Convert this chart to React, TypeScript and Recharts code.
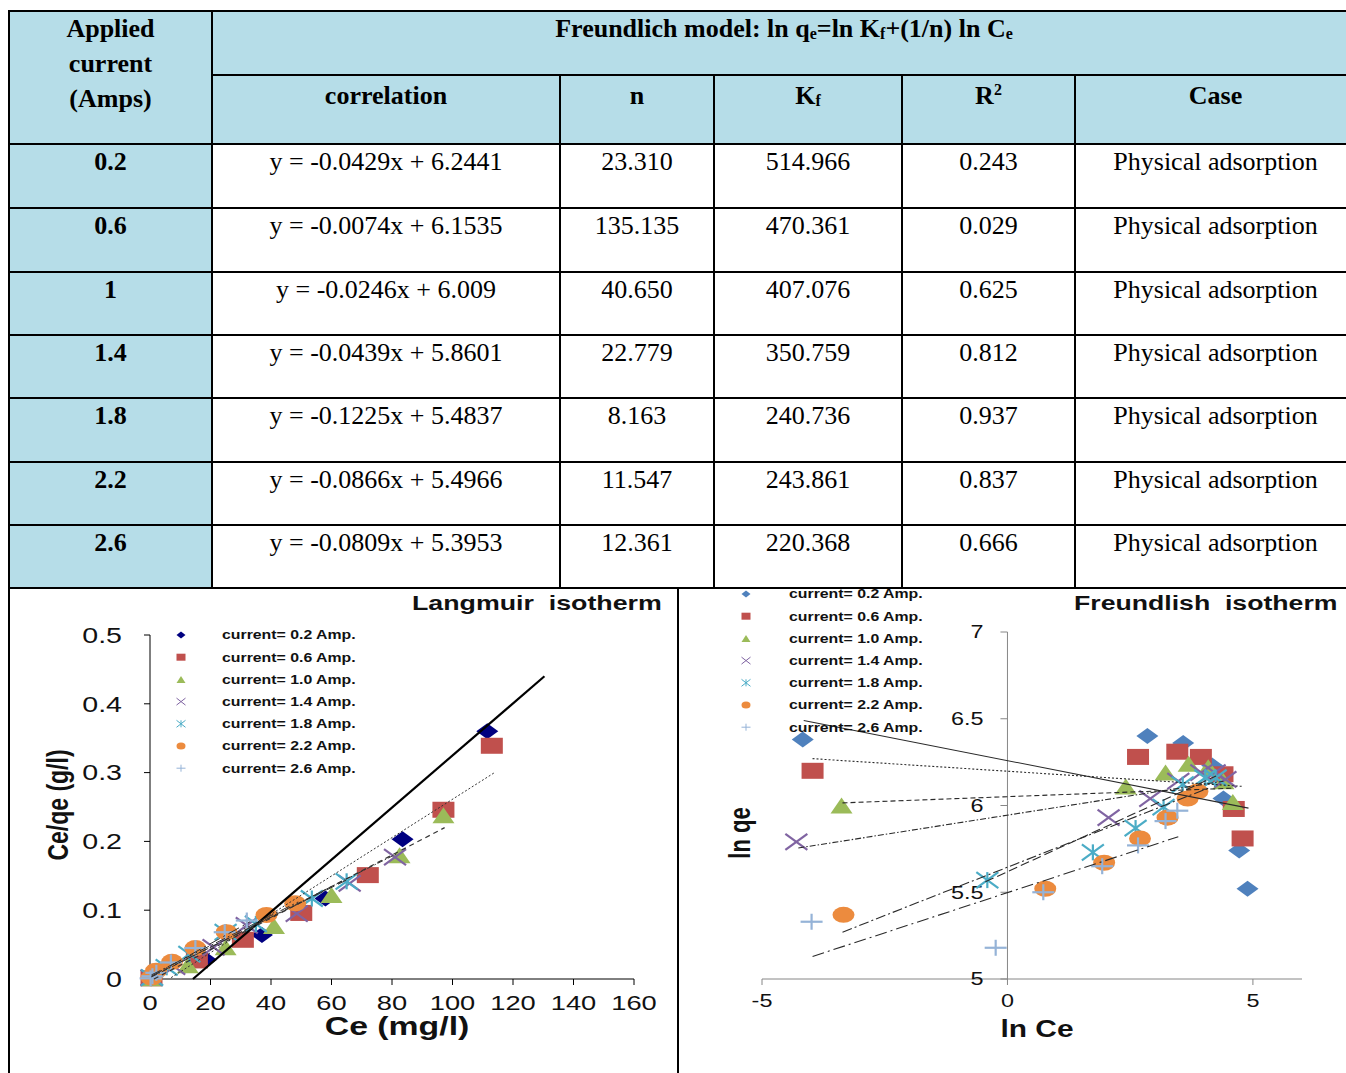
import React from 'react';
import { ScatterChart, Scatter, XAxis, YAxis, ReferenceLine, ReferenceDot } from 'recharts';

type Pt = [number, number];

// ---------------- TABLE DATA ----------------
const CURRENTS = ['0.2', '0.6', '1', '1.4', '1.8', '2.2', '2.6'];
const CORRELATIONS = [
  'y = -0.0429x + 6.2441',
  'y = -0.0074x + 6.1535',
  'y = -0.0246x + 6.009',
  'y = -0.0439x + 5.8601',
  'y = -0.1225x + 5.4837',
  'y = -0.0866x + 5.4966',
  'y = -0.0809x + 5.3953',
];
const N_VALUES = ['23.310', '135.135', '40.650', '22.779', '8.163', '11.547', '12.361'];
const KF_VALUES = ['514.966', '470.361', '407.076', '350.759', '240.736', '243.861', '220.368'];
const R2_VALUES = ['0.243', '0.029', '0.625', '0.812', '0.937', '0.837', '0.666'];
const CASES = ['Physical adsorption', 'Physical adsorption', 'Physical adsorption', 'Physical adsorption', 'Physical adsorption', 'Physical adsorption', 'Physical adsorption'];

// ---------------- CHART DATA ----------------
const SERIES_NAMES = [
  'current= 0.2 Amp.',
  'current= 0.6 Amp.',
  'current= 1.0 Amp.',
  'current= 1.4 Amp.',
  'current= 1.8 Amp.',
  'current= 2.2 Amp.',
  'current= 2.6 Amp.',
];
const MARKERS = ['diamond', 'square', 'triangle', 'x', 'star', 'circle', 'plus'];
const LANG_COLORS = ['#000080', '#c0504d', '#9bbb59', '#8064a2', '#4bacc6', '#ec8b3e', '#95b3d7'];
const FREU_COLORS = ['#4f81bd', '#c0504d', '#9bbb59', '#8064a2', '#4bacc6', '#ec8b3e', '#95b3d7'];

// Langmuir: Ce (mg/l) vs Ce/qe (g/l)
const LANG_02: Pt[] = [[0.5, 0.001], [18.5, 0.028], [37, 0.064], [58, 0.117], [83.5, 0.203], [111.5, 0.36]];
const LANG_06: Pt[] = [[0.5, 0.001], [15.5, 0.027], [30.7, 0.057], [50, 0.096], [72, 0.151], [97, 0.246], [113, 0.339]];
const LANG_10: Pt[] = [[0.5, 0.001], [12.5, 0.02], [25, 0.046], [41, 0.077], [60, 0.122], [82.5, 0.18], [97, 0.238]];
const LANG_14: Pt[] = [[0.5, 0.002], [8, 0.018], [21, 0.046], [32, 0.078], [48.5, 0.095], [66, 0.139], [81, 0.177]];
const LANG_18: Pt[] = [[0.7, 0.002], [5.5, 0.017], [13, 0.036], [25, 0.068], [35, 0.08], [53.5, 0.117], [65, 0.142]];
const LANG_22: Pt[] = [[0.5, 0.002], [2, 0.012], [7.3, 0.025], [15, 0.045], [25.3, 0.068], [38.5, 0.093], [48, 0.11]];
const LANG_26: Pt[] = [[0.2, 0.001], [0.8, 0.004], [2.1, 0.009], [6.9, 0.024], [15, 0.045], [24.7, 0.068], [32, 0.085]];
const LANG_DATA = [LANG_02, LANG_06, LANG_10, LANG_14, LANG_18, LANG_22, LANG_26];

const LANG_TRENDS: Pt[][] = [
  [[14.2, 0], [130.4, 0.44]],
  [[7, 0.002], [113.9, 0.3]],
  [[1.3, 0], [97.4, 0.22]],
  [[0.5, 0.003], [82, 0.183]],
  [[0.5, 0.004], [66, 0.146]],
  [[0.5, 0.006], [49, 0.112]],
  [[0.5, 0.004], [33, 0.083]],
];
const LANG_TREND_DASH = ['', '2 2', '5 4', '6 2 1.5 2', '9 4', '10 3 2 3', '12 4 2 4'];
const LANG_TREND_WIDTH = [2.2, 1, 1.2, 1, 1, 1, 1];

// Freundlich: ln Ce vs ln qe
const FREU_02: Pt[] = [[-4.17, 6.38], [2.85, 6.4], [3.58, 6.36], [4.17, 6.23], [4.4, 6.04], [4.72, 5.74], [4.89, 5.52]];
const FREU_06: Pt[] = [[-3.97, 6.2], [2.66, 6.28], [3.46, 6.31], [3.94, 6.28], [4.38, 6.18], [4.61, 5.98], [4.79, 5.81]];
const FREU_10: Pt[] = [[-3.38, 6.0], [2.41, 6.11], [3.22, 6.19], [3.69, 6.24], [4.09, 6.22], [4.4, 6.14], [4.59, 6.02]];
const FREU_14: Pt[] = [[-4.3, 5.79], [2.06, 5.93], [2.91, 6.04], [3.48, 6.14], [3.95, 6.19], [4.22, 6.19], [4.44, 6.15]];
const FREU_18: Pt[] = [[-0.41, 5.57], [1.74, 5.73], [2.61, 5.87], [3.18, 5.99], [3.57, 6.12], [4.03, 6.16], [4.24, 6.16]];
const FREU_22: Pt[] = [[-3.34, 5.37], [0.77, 5.52], [1.97, 5.67], [2.7, 5.81], [3.26, 5.93], [3.67, 6.04], [3.87, 6.08]];
const FREU_26: Pt[] = [[-3.99, 5.33], [-0.24, 5.18], [0.73, 5.5], [1.93, 5.65], [2.66, 5.77], [3.22, 5.91], [3.46, 5.97]];
const FREU_DATA = [FREU_02, FREU_06, FREU_10, FREU_14, FREU_18, FREU_22, FREU_26];

const FREU_TRENDS: Pt[][] = [
  [[-4.15, 6.49], [4.91, 5.985]],
  [[-3.97, 6.27], [4.8, 6.11]],
  [[-3.36, 6.015], [4.6, 6.1]],
  [[-4.26, 5.755], [4.4, 6.14]],
  [[-0.45, 5.56], [4.25, 6.17]],
  [[-3.36, 5.27], [4.09, 6.1]],
  [[-3.97, 5.13], [3.48, 5.82]],
];
const FREU_TREND_DASH = ['', '2 2', '5 3', '6 2 1.5 2', '9 4', '10 3 2 3', '12 4 2 4'];

const LANG_X_TICKS = [0, 20, 40, 60, 80, 100, 120, 140, 160];
const LANG_Y_TICKS = [0, 0.1, 0.2, 0.3, 0.4, 0.5];
const FREU_X_TICKS = [-5, 0, 5];
const FREU_Y_TICKS = [5, 5.5, 6, 6.5, 7];

const toObj = (arr: Pt[]) => arr.map(([x, y]) => ({ x, y }));

// ---------------- HELPERS ----------------
const SANS = '"Liberation Sans", Arial, sans-serif';
const SERIF = '"Liberation Serif", "Times New Roman", serif';
const STRETCH = 1.3;

function StretchText(props: {
  x: number; y: number; text: string; size: number; anchor?: string; bold?: boolean;
  dy?: string; rotate?: number; fill?: string;
}) {
  const { x, y, text, size, anchor = 'middle', bold = false, dy = '0.355em', rotate = 0, fill = '#111' } = props;
  return (
    <g transform={`translate(${x},${y}) scale(${STRETCH},1)${rotate ? ` rotate(${rotate})` : ''}`}>
      <text
        x={0}
        y={0}
        dy={dy}
        textAnchor={anchor as any}
        fontFamily={SANS}
        fontSize={size}
        fontWeight={bold ? 700 : 400}
        fill={fill}
        style={{ whiteSpace: 'pre' }}
      >
        {text}
      </text>
    </g>
  );
}

function Marker({ kind, cx, cy, w, h, color, sw = 2 }: { kind: string; cx: number; cy: number; w: number; h: number; color: string; sw?: number }) {
  const hw = w / 2;
  const hh = h / 2;
  if (cx == null || cy == null || isNaN(cx) || isNaN(cy)) return <g />;
  switch (kind) {
    case 'diamond':
      return <polygon points={`${cx},${cy - hh} ${cx + hw},${cy} ${cx},${cy + hh} ${cx - hw},${cy}`} fill={color} />;
    case 'square':
      return <rect x={cx - hw} y={cy - hh} width={w} height={h} fill={color} />;
    case 'triangle':
      return <polygon points={`${cx},${cy - hh} ${cx + hw},${cy + hh} ${cx - hw},${cy + hh}`} fill={color} />;
    case 'x':
      return (
        <g stroke={color} strokeWidth={sw}>
          <line x1={cx - hw} y1={cy - hh} x2={cx + hw} y2={cy + hh} />
          <line x1={cx - hw} y1={cy + hh} x2={cx + hw} y2={cy - hh} />
        </g>
      );
    case 'star':
      return (
        <g stroke={color} strokeWidth={sw}>
          <line x1={cx - hw} y1={cy - hh} x2={cx + hw} y2={cy + hh} />
          <line x1={cx - hw} y1={cy + hh} x2={cx + hw} y2={cy - hh} />
          <line x1={cx} y1={cy - hh} x2={cx} y2={cy + hh} />
        </g>
      );
    case 'circle':
      return <ellipse cx={cx} cy={cy} rx={hw} ry={hh} fill={color} />;
    case 'plus':
      return (
        <g stroke={color} strokeWidth={sw}>
          <line x1={cx - hw} y1={cy} x2={cx + hw} y2={cy} />
          <line x1={cx} y1={cy - hh} x2={cx} y2={cy + hh} />
        </g>
      );
    default:
      return <g />;
  }
}

const NoShape = () => <g />;

// ---------------- TABLE ----------------
const COL_EDGES = [9, 212, 560, 714, 902, 1075, 1356];
const ROW_EDGES = [11, 75, 144, 208, 272, 335, 398, 462, 525, 588];
const HEAD_BG = '#b6dde8';

function Table() {
  const lines: React.ReactNode[] = [];
  ROW_EDGES.forEach((y, i) => {
    const x0 = i === 1 ? COL_EDGES[1] : COL_EDGES[0];
    lines.push(<div key={`h${i}`} style={{ position: 'absolute', left: x0 - 1, top: y - 1, width: 1360 - x0, height: 2, background: '#000' }} />);
  });
  lines.push(<div key="v0" style={{ position: 'absolute', left: COL_EDGES[0] - 1, top: ROW_EDGES[0] - 1, width: 2, height: 1073 - ROW_EDGES[0] + 1, background: '#000' }} />);
  lines.push(<div key="v1" style={{ position: 'absolute', left: COL_EDGES[1] - 1, top: ROW_EDGES[0] - 1, width: 2, height: ROW_EDGES[9] - ROW_EDGES[0] + 2, background: '#000' }} />);
  [2, 3, 4, 5].forEach((c) => {
    lines.push(<div key={`v${c}`} style={{ position: 'absolute', left: COL_EDGES[c] - 1, top: ROW_EDGES[1] - 1, width: 2, height: ROW_EDGES[9] - ROW_EDGES[1] + 2, background: '#000' }} />);
  });
  lines.push(<div key="vchart" style={{ position: 'absolute', left: 677, top: ROW_EDGES[9] - 1, width: 2, height: 1073 - ROW_EDGES[9] + 1, background: '#000' }} />);

  const cellText = (left: number, right: number, top: number, content: React.ReactNode, bold: boolean, lh = 30, key?: string) => (
    <div
      key={key}
      style={{
        position: 'absolute', left, top, width: right - left, textAlign: 'center',
        fontFamily: SERIF, fontSize: 26, fontWeight: bold ? 700 : 400, lineHeight: `${lh}px`, color: '#000', whiteSpace: 'nowrap',
      }}
    >
      {content}
    </div>
  );
  const sub = (t: string) => <span style={{ fontSize: 16, verticalAlign: '-2px', lineHeight: 1 }}>{t}</span>;

  const subHeaders: React.ReactNode[] = [
    'correlation',
    'n',
    <span key="kf">K{sub('f')}</span>,
    <span key="r2">R<span style={{ fontSize: 16, verticalAlign: '9px', lineHeight: 1 }}>2</span></span>,
    'Case',
  ];

  const columns = [CURRENTS, CORRELATIONS, N_VALUES, KF_VALUES, R2_VALUES, CASES];

  return (
    <>
      <div style={{ position: 'absolute', left: COL_EDGES[0], top: ROW_EDGES[0], width: 1356 - COL_EDGES[0], height: ROW_EDGES[2] - ROW_EDGES[0], background: HEAD_BG }} />
      <div style={{ position: 'absolute', left: COL_EDGES[0], top: ROW_EDGES[2], width: COL_EDGES[1] - COL_EDGES[0], height: ROW_EDGES[9] - ROW_EDGES[2], background: HEAD_BG }} />
      {lines}
      {cellText(COL_EDGES[0], COL_EDGES[1], ROW_EDGES[0], <>Applied<br />current<br />(Amps)</>, true, 35, 'hA')}
      {cellText(COL_EDGES[1], COL_EDGES[6], ROW_EDGES[0], <>Freundlich model: ln q{sub('e')}=ln K{sub('f')}+(1/n) ln C{sub('e')}</>, true, 35, 'hF')}
      {subHeaders.map((s, i) => cellText(COL_EDGES[i + 1], COL_EDGES[i + 2], ROW_EDGES[1] + 6, s, true, 30, `sh${i}`))}
      {CURRENTS.map((_, r) =>
        columns.map((col, c) => cellText(COL_EDGES[c], COL_EDGES[c + 1], ROW_EDGES[r + 2] + 3, col[r], c === 0, 30, `d${r}-${c}`))
      )}
    </>
  );
}

// ---------------- CHARTS ----------------
function LangmuirChart() {
  return (
    <ScatterChart width={680} height={485} margin={{ top: 47, right: 46, bottom: 0, left: 0 }}>
      <XAxis
        type="number"
        dataKey="x"
        domain={[0, 160]}
        ticks={LANG_X_TICKS}
        interval={0}
        height={94}
        tickSize={6}
        tickMargin={10}
        axisLine={{ stroke: '#000' }}
        tickLine={{ stroke: '#000' }}
        tick={(p: any) => <StretchText x={p.x} y={p.y} text={String(p.payload.value)} size={21} anchor="middle" dy="0.71em" />}
      />
      <YAxis
        type="number"
        dataKey="y"
        domain={[0, 0.5]}
        ticks={LANG_Y_TICKS}
        interval={0}
        width={150}
        tickSize={6}
        tickMargin={22}
        axisLine={{ stroke: '#000' }}
        tickLine={{ stroke: '#000' }}
        tick={(p: any) => <StretchText x={p.x} y={p.y} text={String(p.payload.value)} size={22} anchor="end" dy="0.355em" />}
      />
      {LANG_DATA.map((d, i) => (
        <Scatter
          key={`ls${i}`}
          name={SERIES_NAMES[i]}
          data={toObj(d)}
          isAnimationActive={false}
          shape={(p: any) => <Marker kind={MARKERS[i]} cx={p.cx} cy={p.cy} w={22} h={16} color={LANG_COLORS[i]} sw={2.2} />}
        />
      ))}
      {LANG_TRENDS.map((d, i) => (
        <Scatter
          key={`lt${i}`}
          name={`trend ${SERIES_NAMES[i]}`}
          data={toObj(d)}
          isAnimationActive={false}
          shape={NoShape}
          line={{ stroke: i === 0 ? '#000' : '#333', strokeWidth: LANG_TREND_WIDTH[i], strokeDasharray: LANG_TREND_DASH[i] || undefined }}
        />
      ))}
    </ScatterChart>
  );
}

function FreundlichChart() {
  return (
    <ScatterChart width={666} height={485} margin={{ top: 44, right: 44, bottom: 0, left: 82 }}>
      <XAxis
        type="number"
        dataKey="x"
        domain={[-5, 6]}
        ticks={FREU_X_TICKS}
        interval={0}
        height={94}
        tickSize={6}
        tickMargin={9}
        axisLine={{ stroke: '#868686' }}
        tickLine={{ stroke: '#868686' }}
        tick={(p: any) => <StretchText x={p.x} y={p.y} text={String(p.payload.value)} size={18} anchor="middle" dy="0.71em" />}
      />
      <YAxis type="number" dataKey="y" domain={[5, 7]} hide />
      <ReferenceLine x={0} stroke="#868686" strokeWidth={1} ifOverflow="visible" />
      {FREU_Y_TICKS.map((t) => (
        <ReferenceDot
          key={`fy${t}`}
          x={0}
          y={t}
          r={0}
          ifOverflow="visible"
          shape={(p: any) => (
            <g>
              <line x1={p.cx - 7} y1={p.cy} x2={p.cx} y2={p.cy} stroke="#868686" />
              <StretchText x={p.cx - 24} y={p.cy} text={String(t)} size={18} anchor="end" dy="0.355em" />
            </g>
          )}
        />
      ))}
      {FREU_DATA.map((d, i) => (
        <Scatter
          key={`fs${i}`}
          name={SERIES_NAMES[i]}
          data={toObj(d)}
          isAnimationActive={false}
          shape={(p: any) => <Marker kind={MARKERS[i]} cx={p.cx} cy={p.cy} w={22} h={16} color={FREU_COLORS[i]} sw={2.2} />}
        />
      ))}
      {FREU_TRENDS.map((d, i) => (
        <Scatter
          key={`ft${i}`}
          name={`trend ${SERIES_NAMES[i]}`}
          data={toObj(d)}
          isAnimationActive={false}
          shape={NoShape}
          line={{ stroke: '#2a2a2a', strokeWidth: 1.1, strokeDasharray: FREU_TREND_DASH[i] || undefined }}
        />
      ))}
    </ScatterChart>
  );
}

function Legend({ mx, tx, y0, colors }: { mx: number; tx: number; y0: number; colors: string[] }) {
  return (
    <g>
      {SERIES_NAMES.map((name, i) => {
        const y = y0 + i * 22.2;
        return (
          <g key={name}>
            <Marker kind={MARKERS[i]} cx={mx} cy={y} w={9} h={7} color={colors[i]} sw={1} />
            <StretchText x={tx} y={y} text={name} size={12.2} bold anchor="start" dy="0.355em" />
          </g>
        );
      })}
    </g>
  );
}

export default function App() {
  return (
    <div style={{ position: 'absolute', left: 0, top: 0, width: 1346, height: 1073, overflow: 'hidden', background: '#fff' }}>
      <Table />
      <div style={{ position: 'absolute', left: 0, top: 588, width: 680, height: 485 }}>
        <LangmuirChart />
      </div>
      <div style={{ position: 'absolute', left: 680, top: 588, width: 666, height: 485 }}>
        <FreundlichChart />
      </div>
      <svg width={1346} height={1073} style={{ position: 'absolute', left: 0, top: 0, pointerEvents: 'none' }}>
        <StretchText x={412} y={603} text="Langmuir  isotherm" size={20.6} bold anchor="start" />
        <StretchText x={1074} y={603} text="Freundlish  isotherm" size={20.5} bold anchor="start" />
        <Legend mx={181} tx={222} y0={635} colors={LANG_COLORS} />
        <Legend mx={746} tx={789} y0={594} colors={FREU_COLORS} />
        <StretchText x={57} y={805} text="Ce/qe (g/l)" size={23} bold rotate={-90} />
        <StretchText x={397} y={1026} text="Ce (mg/l)" size={26} bold />
        <StretchText x={740} y={833} text="ln qe" size={22} bold rotate={-90} />
        <StretchText x={1037} y={1029} text="ln Ce" size={23} bold />
      </svg>
    </div>
  );
}
